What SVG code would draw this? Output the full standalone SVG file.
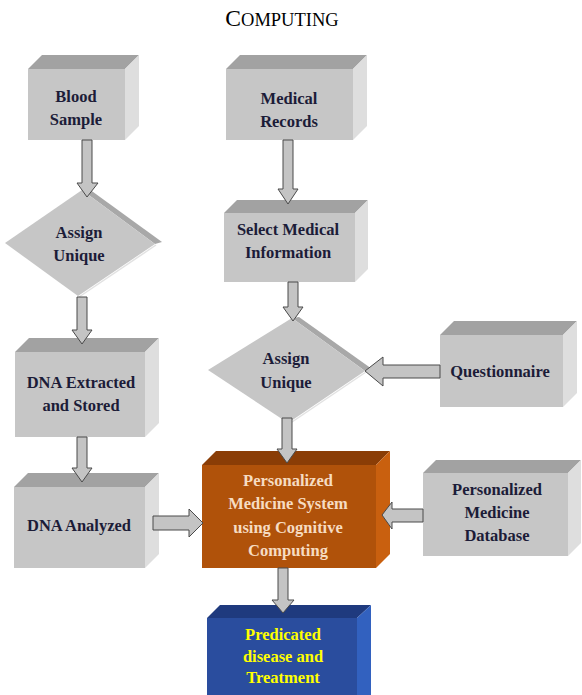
<svg xmlns="http://www.w3.org/2000/svg" width="582" height="695" viewBox="0 0 582 695">
<defs>
<filter id="sh" x="-10%" y="-10%" width="120%" height="130%">
<feDropShadow dx="0.8" dy="0.8" stdDeviation="0.4" flood-color="#a07040" flood-opacity="0.5"/>
</filter>
</defs>
<style>
.front{fill:#c6c6c6}
.top{fill:#a2a2a2}
.side{fill:#dedede}
.ofront{fill:#b0520a}
.otop{fill:#8a3d06}
.oside{fill:#c9600f}
.bfront{fill:#2a4d9e}
.btop{fill:#1f3a7e}
.bside{fill:#3261bf}
.dia{fill:#c6c6c6}
.band{fill:#a8a8a8}
.edge{fill:none;stroke:#e2e2e2;stroke-width:1.5}
text{font-family:'Liberation Serif','Times New Roman',Times,serif}
.t{font-weight:bold;font-size:16.5px;fill:#1c1c38;text-anchor:middle}
.to{fill:#f6dcc2}
.tb{fill:#ffff00}
.arr{fill:#c4c4c4;stroke:#4a4a4a;stroke-width:1}
.title{fill:#000;text-anchor:middle}
</style>
<rect width="582" height="695" fill="#ffffff"/>
<text class="title" x="282" y="26" font-size="18.5" font-family="Liberation Serif, serif"><tspan font-size="23.5">C</tspan>OMPUTING</text>

<g id="blood-sample">
<rect class="front" x="28" y="69" width="97" height="71"/>
<polygon class="top" points="28,69 42,55 139,55 125,69"/>
<polygon class="side" points="125,69 139,55 139,126 125,140"/>
<text class="t" x="76" y="102">Blood</text>
<text class="t" x="76" y="125">Sample</text>
</g>

<g id="assign-unique-1">
<polygon class="band" points="82,190 89,189 162,242 155,244"/>
<polygon class="dia" points="82,190 155,244 78,296 5,243"/>
<line class="edge" x1="156" y1="245" x2="79" y2="297"/>
<text class="t" x="79" y="238">Assign</text>
<text class="t" x="79" y="261">Unique</text>
</g>

<g id="dna-extracted">
<rect class="front" x="15" y="352" width="130" height="85"/>
<polygon class="top" points="15,352 29,338 159,338 145,352"/>
<polygon class="side" points="145,352 159,338 159,423 145,437"/>
<text class="t" x="81" y="388">DNA Extracted</text>
<text class="t" x="81" y="411">and Stored</text>
</g>

<g id="dna-analyzed">
<rect class="front" x="14" y="487" width="131" height="81"/>
<polygon class="top" points="14,487 28,473 159,473 145,487"/>
<polygon class="side" points="145,487 159,473 159,554 145,568"/>
<text class="t" x="79" y="531">DNA Analyzed</text>
</g>

<g id="medical-records">
<rect class="front" x="226" y="69" width="127" height="71"/>
<polygon class="top" points="226,69 240,55 367,55 353,69"/>
<polygon class="side" points="353,69 367,55 367,126 353,140"/>
<text class="t" x="289" y="104">Medical</text>
<text class="t" x="289" y="127">Records</text>
</g>

<g id="select-medical">
<rect class="front" x="224" y="213" width="131" height="69"/>
<polygon class="top" points="224,213 237,200 368,200 355,213"/>
<polygon class="side" points="355,213 368,200 368,269 355,282"/>
<text class="t" x="288" y="235">Select Medical</text>
<text class="t" x="288" y="258">Information</text>
</g>

<g id="assign-unique-2">
<polygon class="band" points="292,318 299,317 372,369 365,371"/>
<polygon class="dia" points="292,318 365,371 288,423 208,370"/>
<line class="edge" x1="366" y1="372" x2="289" y2="424"/>
<text class="t" x="286" y="364">Assign</text>
<text class="t" x="286" y="388">Unique</text>
</g>

<g id="questionnaire">
<rect class="front" x="440" y="335" width="123" height="72"/>
<polygon class="top" points="440,335 454,321 577,321 563,335"/>
<polygon class="side" points="563,335 577,321 577,393 563,407"/>
<text class="t" x="500" y="377">Questionnaire</text>
</g>

<g id="pm-system">
<rect class="ofront" x="202" y="465" width="174" height="103"/>
<polygon class="otop" points="202,465 216,451 390,451 376,465"/>
<polygon class="oside" points="376,465 390,451 390,554 376,568"/>
<text class="t to" x="288" y="486" font-size="17">Personalized</text>
<text class="t to" x="288" y="509" font-size="17">Medicine System</text>
<text class="t to" x="288" y="533" font-size="17">using Cognitive</text>
<text class="t to" x="288" y="556" font-size="17">Computing</text>
</g>

<g id="pm-database">
<rect class="front" x="423" y="473" width="145" height="83"/>
<polygon class="top" points="423,473 436,460 581,460 568,473"/>
<polygon class="side" points="568,473 581,460 581,543 568,556"/>
<text class="t" x="497" y="495">Personalized</text>
<text class="t" x="497" y="518">Medicine</text>
<text class="t" x="497" y="541">Database</text>
</g>

<g id="predicated">
<rect class="bfront" x="207" y="618" width="150" height="82"/>
<polygon class="btop" points="207,618 220,605 371,605 357,618"/>
<polygon class="bside" points="357,618 371,605 371,700 357,700"/>
<text class="t tb" x="283" y="640">Predicated</text>
<text class="t tb" x="283" y="662">disease and</text>
<text class="t tb" x="283" y="683">Treatment</text>
</g>

<g id="connectors">
<polygon class="arr" points="82,140 92,140 92,183 98,183 87,197 77,183 82,183"/>
<polygon class="arr" points="77,297 87,297 87,330 92,330 82,344 72,330 77,330"/>
<polygon class="arr" points="77,437 87,437 87,468 92,468 82,482 72,468 77,468"/>
<polygon class="arr" points="153,516 189,516 189,509 203,523 189,537 189,530 153,530"/>
<polygon class="arr" points="283,140 293,140 293,189 298,189 288,204 278,189 283,189"/>
<polygon class="arr" points="288,282 298,282 298,307 303,307 293,321 283,307 288,307"/>
<polygon class="arr" points="440,365 383,365 383,357 365,371 383,386 383,378 440,378"/>
<polygon class="arr" points="282,418 292,418 292,449 297,449 287,463 277,449 282,449"/>
<polygon class="arr" points="423,509 392,509 392,502 382,515 392,529 392,522 423,522"/>
<polygon class="arr" points="278,568 288,568 288,600 294,600 283,613 272,600 278,600"/>
</g>
</svg>
